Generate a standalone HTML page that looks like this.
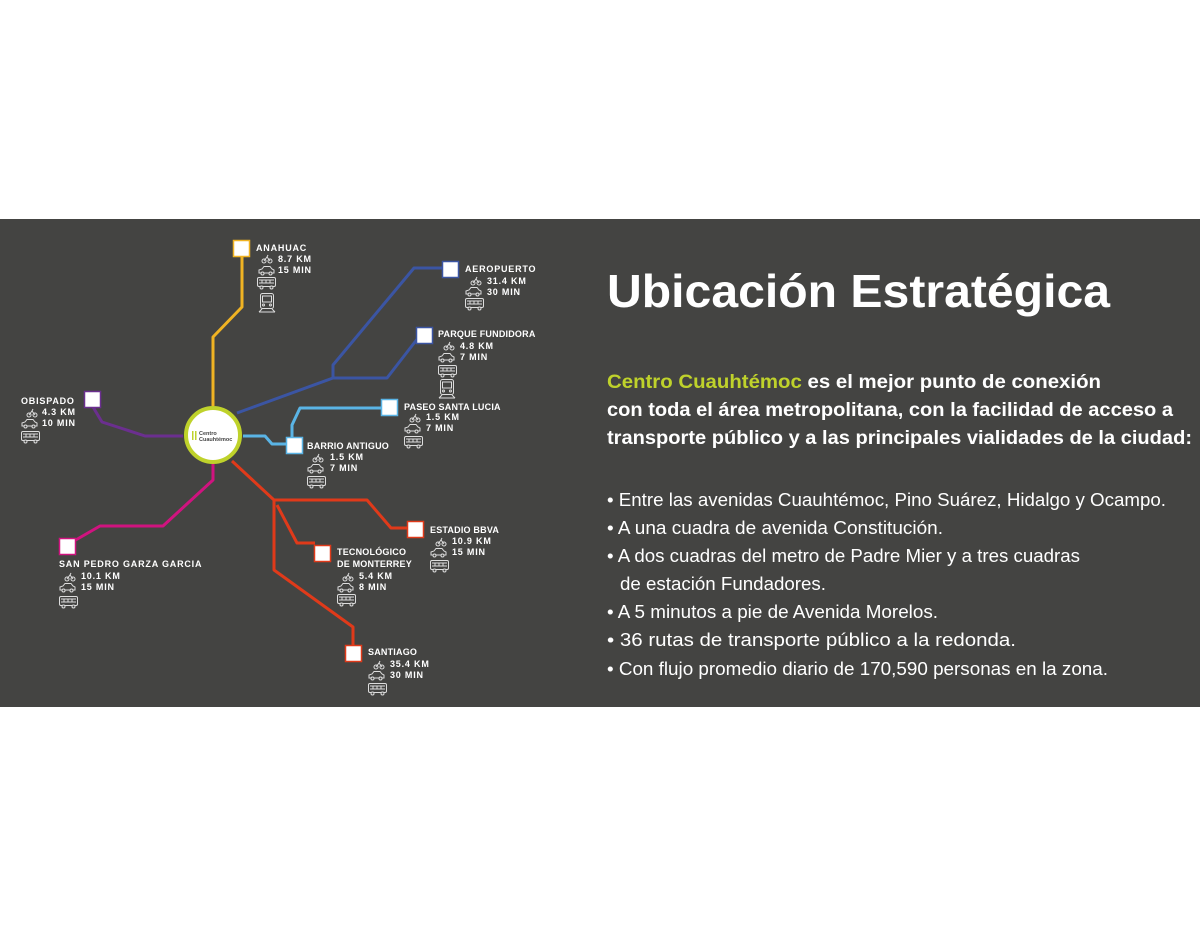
<!DOCTYPE html>
<html><head><meta charset="utf-8"><style>
html,body{margin:0;padding:0;background:#fff;}
svg{display:block;}
.l{font-family:"Liberation Sans",sans-serif;font-weight:bold;font-size:9px;fill:#fff;letter-spacing:0.8px;}
.t{font-family:"Liberation Sans",sans-serif;fill:#fff;}
</style></head><body>
<svg width="1200" height="927" viewBox="0 0 1200 927" xmlns="http://www.w3.org/2000/svg">
<defs>
<g id="bike" fill="none" stroke="#ddd" stroke-width="1"><circle cx="2" cy="6" r="2"/><circle cx="8" cy="6" r="2"/><path d="M2 6 L5 2 L8 6 M5 2 L6 0"/></g>
<g id="car" fill="none" stroke="#ddd" stroke-width="1"><path d="M1 7 L1 4 L4 3 L6 0.5 L12 0.5 L14 3 L16 4 L16 7 Z"/><circle cx="4.5" cy="7.5" r="1.5" fill="#444442"/><circle cx="12.5" cy="7.5" r="1.5" fill="#444442"/></g>
<g id="bus" fill="none" stroke="#ddd" stroke-width="1"><rect x="0.5" y="0.5" width="18" height="9" rx="1.5"/><path d="M2 3 H17 M2 6 H17 M5 3 V6 M9 3 V6 M13 3 V6"/><circle cx="4.5" cy="10.5" r="1.5" fill="#444442"/><circle cx="14.5" cy="10.5" r="1.5" fill="#444442"/></g>
<g id="train" fill="none" stroke="#ddd" stroke-width="1"><rect x="2.5" y="0.5" width="13" height="15" rx="2"/><rect x="4.5" y="3" width="9" height="6"/><circle cx="5.5" cy="12" r="1"/><circle cx="12.5" cy="12" r="1"/><path d="M4 16 L1 19 M14 16 L17 19 M1 19 H17"/></g>
</defs>
<rect x="0" y="219" width="1200" height="488" fill="#444442"/>
<g fill="none" stroke-width="3" stroke-linejoin="round">
<path d="M213 406 V337 L242 307 V257" stroke="#f0b323"/>
<path d="M237 413 L333 378 V365 L414 268 H443" stroke="#3b55a3"/>
<path d="M333 378 H387 L418 338" stroke="#3b55a3"/>
<path d="M243 436 H265 L272 444 H288" stroke="#5ab4e5"/>
<path d="M292 438 V425 L300 408 H382" stroke="#5ab4e5"/>
<path d="M183 436 H145 L102 422 L93 407" stroke="#6b2f8f"/>
<path d="M213 464 V480 L163 526 H100 L67 545" stroke="#d0137f"/>
<path d="M232 461 L274 500 H367 L391 528 H408" stroke="#e03a1a"/>
<path d="M277 505 L297 543 H315" stroke="#e03a1a"/>
<path d="M274 500 V570 L353 627 V646" stroke="#e03a1a"/>
</g>
<g fill="#fff" stroke-width="1.5">
<rect x="233.5" y="240.5" width="16" height="16" stroke="#f0b323"/>
<rect x="442.5" y="261.5" width="16" height="16" stroke="#3b55a3"/>
<rect x="416.5" y="327.5" width="16" height="16" stroke="#3b55a3"/>
<rect x="84.5" y="391.5" width="16" height="16" stroke="#6b2f8f"/>
<rect x="381.5" y="399.5" width="16" height="16" stroke="#5ab4e5"/>
<rect x="286.5" y="437.5" width="16" height="16" stroke="#5ab4e5"/>
<rect x="407.5" y="521.5" width="16" height="16" stroke="#e03a1a"/>
<rect x="314.5" y="545.5" width="16" height="16" stroke="#e03a1a"/>
<rect x="59.5" y="538.5" width="16" height="16" stroke="#d0137f"/>
<rect x="345.5" y="645.5" width="16" height="16" stroke="#e03a1a"/>
</g>
<circle cx="213" cy="435" r="27" fill="#fff" stroke="#bfd22b" stroke-width="4"/>
<rect x="192" y="431" width="1.5" height="9" fill="#bfd22b"/><rect x="195" y="431" width="1.5" height="9" fill="#bfd22b"/>
<text x="199" y="435" style="font-family:'Liberation Sans',sans-serif;font-size:5.5px;font-weight:bold;fill:#444">Centro</text>
<text x="199" y="441" style="font-family:'Liberation Sans',sans-serif;font-size:5.5px;font-weight:bold;fill:#444">Cuauhtémoc</text>

<!-- labels -->
<text class="l" x="256" y="251">ANAHUAC</text>
<use href="#bike" x="262" y="255"/><text class="l" x="278" y="262">8.7 KM</text>
<use href="#car" x="258" y="266"/><text class="l" x="278" y="273">15 MIN</text>
<use href="#bus" x="257" y="277"/><use href="#train" x="258" y="293"/>

<text class="l" x="465" y="272">AEROPUERTO</text>
<use href="#bike" x="471" y="277"/><text class="l" x="487" y="284">31.4 KM</text>
<use href="#car" x="465" y="287"/><text class="l" x="487" y="295">30 MIN</text>
<use href="#bus" x="465" y="298"/>

<text class="l" x="438" y="337" style="letter-spacing:0.2px">PARQUE FUNDIDORA</text>
<use href="#bike" x="444" y="342"/><text class="l" x="460" y="349">4.8 KM</text>
<use href="#car" x="438" y="353"/><text class="l" x="460" y="360">7 MIN</text>
<use href="#bus" x="438" y="365"/><use href="#train" x="438" y="379"/>

<text class="l" x="21" y="404">OBISPADO</text>
<use href="#bike" x="27" y="409"/><text class="l" x="42" y="415">4.3 KM</text>
<use href="#car" x="21" y="419"/><text class="l" x="42" y="426">10 MIN</text>
<use href="#bus" x="21" y="431"/>

<text class="l" x="404" y="410" style="letter-spacing:0.2px">PASEO SANTA LUCIA</text>
<use href="#bike" x="410" y="414"/><text class="l" x="426" y="420">1.5 KM</text>
<use href="#car" x="404" y="424"/><text class="l" x="426" y="431">7 MIN</text>
<use href="#bus" x="404" y="436"/>

<text class="l" x="307" y="449" style="letter-spacing:0.2px">BARRIO ANTIGUO</text>
<use href="#bike" x="313" y="454"/><text class="l" x="330" y="460">1.5 KM</text>
<use href="#car" x="307" y="464"/><text class="l" x="330" y="471">7 MIN</text>
<use href="#bus" x="307" y="476"/>

<text class="l" x="430" y="533" style="letter-spacing:0.2px">ESTADIO BBVA</text>
<use href="#bike" x="436" y="538"/><text class="l" x="452" y="544">10.9 KM</text>
<use href="#car" x="430" y="548"/><text class="l" x="452" y="555">15 MIN</text>
<use href="#bus" x="430" y="560"/>

<text class="l" x="337" y="555" style="letter-spacing:0.2px">TECNOLÓGICO</text>
<text class="l" x="337" y="567" style="letter-spacing:0.2px">DE MONTERREY</text>
<use href="#bike" x="343" y="573"/><text class="l" x="359" y="579">5.4 KM</text>
<use href="#car" x="337" y="583"/><text class="l" x="359" y="590">8 MIN</text>
<use href="#bus" x="337" y="594"/>

<text class="l" x="59" y="567">SAN PEDRO GARZA GARCIA</text>
<use href="#bike" x="65" y="573"/><text class="l" x="81" y="579">10.1 KM</text>
<use href="#car" x="59" y="583"/><text class="l" x="81" y="590">15 MIN</text>
<use href="#bus" x="59" y="596"/>

<text class="l" x="368" y="655" style="letter-spacing:0.2px">SANTIAGO</text>
<use href="#bike" x="374" y="661"/><text class="l" x="390" y="667">35.4 KM</text>
<use href="#car" x="368" y="671"/><text class="l" x="390" y="678">30 MIN</text>
<use href="#bus" x="368" y="683"/>

<!-- right text -->
<text class="t" x="607" y="307" font-size="46" font-weight="bold" textLength="503" lengthAdjust="spacingAndGlyphs">Ubicación  Estratégica</text>
<g font-size="19" font-weight="bold" class="t" style="font-family:'Liberation Sans',sans-serif">
<text x="607" y="388" textLength="494" lengthAdjust="spacingAndGlyphs"><tspan fill="#bfd22b">Centro Cuauhtémoc</tspan> es el mejor punto de conexión</text>
<text x="607" y="416" textLength="566" lengthAdjust="spacingAndGlyphs">con toda el área metropolitana, con la facilidad de acceso a</text>
<text x="607" y="444" textLength="585" lengthAdjust="spacingAndGlyphs">transporte público y a las principales vialidades de la ciudad:</text>
</g>
<g font-size="18" class="t" style="font-family:'Liberation Sans',sans-serif">
<text x="607" y="506" textLength="559" lengthAdjust="spacingAndGlyphs">• Entre las avenidas Cuauhtémoc, Pino Suárez, Hidalgo y Ocampo.</text>
<text x="607" y="534" textLength="336" lengthAdjust="spacingAndGlyphs">• A una cuadra de avenida Constitución.</text>
<text x="607" y="562" textLength="473" lengthAdjust="spacingAndGlyphs">• A dos cuadras del metro de Padre Mier y a tres cuadras</text>
<text x="620" y="590" textLength="206" lengthAdjust="spacingAndGlyphs">de estación Fundadores.</text>
<text x="607" y="618" textLength="331" lengthAdjust="spacingAndGlyphs">• A 5 minutos a pie de Avenida Morelos.</text>
<text x="607" y="646" textLength="409" lengthAdjust="spacingAndGlyphs">• 36 rutas de transporte público a la redonda.</text>
<text x="607" y="675" textLength="501" lengthAdjust="spacingAndGlyphs">• Con flujo promedio diario de 170,590 personas en la zona.</text>
</g>
</svg>
</body></html>
